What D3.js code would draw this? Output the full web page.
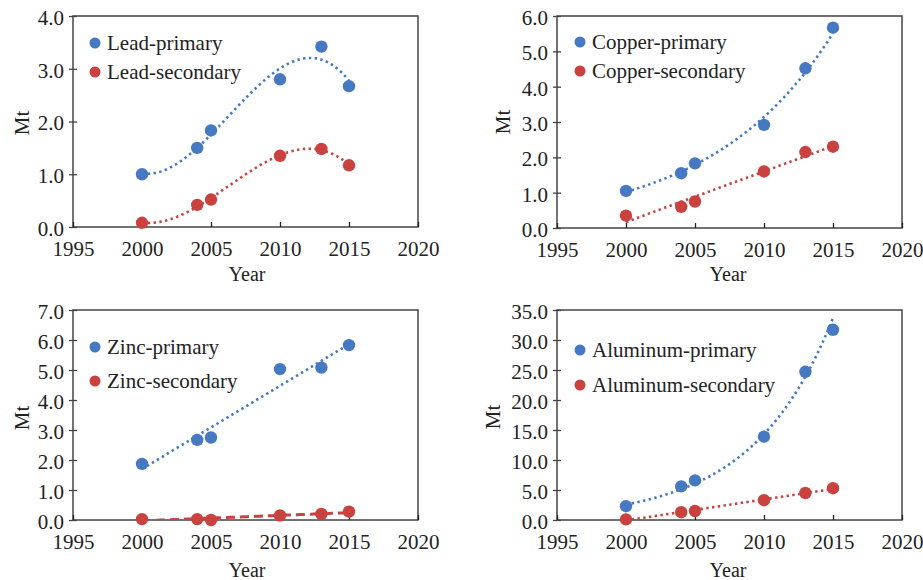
<!DOCTYPE html>
<html>
<head>
<meta charset="utf-8">
<script src="https://cdn.jsdelivr.net/npm/d3@7/dist/d3.min.js"></script>
<style>
  html, body { margin: 0; padding: 0; background: #fff; }
  svg { display: block; }
  svg text { font-family: "Liberation Serif", "Times New Roman", Tinos, "DejaVu Serif", serif !important; fill: #222; }
</style>
</head>
<body>
<svg id="chart" width="923" height="580"></svg>
<script>
// ---- data ----
const years = [2000, 2004, 2005, 2010, 2013, 2015];
const xTicks = [1995, 2000, 2005, 2010, 2015, 2020];

const leadPrimary = [1.0, 1.5, 1.83, 2.8, 3.42, 2.67];
const leadSecondary = [0.08, 0.42, 0.52, 1.35, 1.48, 1.17];
const copperPrimary = [1.05, 1.55, 1.83, 2.92, 4.52, 5.67];
const copperSecondary = [0.35, 0.6, 0.75, 1.6, 2.15, 2.3];
const zincPrimary = [1.87, 2.67, 2.75, 5.03, 5.08, 5.83];
const zincSecondary = [0.03, 0.03, 0.0, 0.15, 0.2, 0.28];
const aluminumPrimary = [2.3, 5.6, 6.6, 13.9, 24.7, 31.7];
const aluminumSecondary = [0.1, 1.3, 1.5, 3.3, 4.5, 5.3];

const leadTicks = [0, 1, 2, 3, 4];
const copperTicks = [0, 1, 2, 3, 4, 5, 6];
const zincTicks = [0, 1, 2, 3, 4, 5, 6, 7];
const aluminumTicks = [0, 5, 10, 15, 20, 25, 30, 35];

const panels = [
  { names: ["Lead-primary", "Lead-secondary"], series: [leadPrimary, leadSecondary],
    fits: ["poly3", "poly3"], yTicks: leadTicks,
    box: { x0: 73, x1: 418, y0: 16, y1: 227 }, legend: { x: 95, y: 43, dy: 29 },
    mt: { x: 22, y: 123 }, year: { x: 247, y: 281 } },
  { names: ["Copper-primary", "Copper-secondary"], series: [copperPrimary, copperSecondary],
    fits: ["exp", "linear"], yTicks: copperTicks,
    box: { x0: 557, x1: 902, y0: 16, y1: 228 }, legend: { x: 580, y: 42, dy: 29 },
    mt: { x: 503, y: 122 }, year: { x: 728, y: 281 } },
  { names: ["Zinc-primary", "Zinc-secondary"], series: [zincPrimary, zincSecondary],
    fits: ["linear", "linear"], yTicks: zincTicks, dashed2: true,
    box: { x0: 73, x1: 418, y0: 310, y1: 520 }, legend: { x: 95, y: 347, dy: 34 },
    mt: { x: 22, y: 418 }, year: { x: 247, y: 577 } },
  { names: ["Aluminum-primary", "Aluminum-secondary"], series: [aluminumPrimary, aluminumSecondary],
    fits: ["exp", "linear"], yTicks: aluminumTicks,
    box: { x0: 557, x1: 902, y0: 310, y1: 520 }, legend: { x: 580, y: 350, dy: 35 },
    mt: { x: 493, y: 417 }, year: { x: 728, y: 577 } }
];

const colors = ["#4679c2", "#c9423f"];
const FONT = '"Liberation Serif", "Times New Roman", Tinos, "DejaVu Serif", serif';

// ---- least-squares trendline helpers ----
function solve(A, b) {
  const n = b.length;
  const M = A.map((r, i) => r.concat([b[i]]));
  for (let c = 0; c < n; c++) {
    let p = c;
    for (let r = c + 1; r < n; r++) if (Math.abs(M[r][c]) > Math.abs(M[p][c])) p = r;
    [M[c], M[p]] = [M[p], M[c]];
    for (let r = 0; r < n; r++) {
      if (r === c) continue;
      const f = M[r][c] / M[c][c];
      for (let k = c; k <= n; k++) M[r][k] -= f * M[c][k];
    }
  }
  return M.map((r, i) => r[n] / r[i]);
}
function polyFit(xs, ys, deg) {
  const n = deg + 1;
  const A = Array.from({ length: n }, () => Array(n).fill(0));
  const b = Array(n).fill(0);
  xs.forEach((x, i) => {
    for (let r = 0; r < n; r++) {
      b[r] += ys[i] * Math.pow(x, r);
      for (let c = 0; c < n; c++) A[r][c] += Math.pow(x, r + c);
    }
  });
  const coef = solve(A, b);
  return x => coef.reduce((s, c, k) => s + c * Math.pow(x, k), 0);
}
function makeFit(type, xs, ys) {
  const t = xs.map(x => x - 2000);
  if (type === "linear") { const f = polyFit(t, ys, 1); return x => f(x - 2000); }
  if (type === "poly3") { const f = polyFit(t, ys, 3); return x => f(x - 2000); }
  if (type === "exp") {
    const f = polyFit(t, ys.map(v => Math.log(v)), 1);
    return x => Math.exp(f(x - 2000));
  }
}

// ---- draw ----
const svg = d3.select("#chart");
svg.append("rect").attr("width", 923).attr("height", 580).attr("fill", "#fff");

panels.forEach((p, pi) => {
  const b = p.box;
  const x = d3.scaleLinear().domain([1995, 2020]).range([b.x0, b.x1]);
  const y = d3.scaleLinear().domain([0, d3.max(p.yTicks)]).range([b.y1, b.y0]);
  const g = svg.append("g").attr("font-family", FONT);

  const clipId = "clip" + pi;
  svg.append("clipPath").attr("id", clipId).append("rect")
    .attr("x", b.x0).attr("y", b.y0).attr("width", b.x1 - b.x0).attr("height", b.y1 - b.y0);

  // frame
  g.append("rect").attr("x", b.x0).attr("y", b.y0)
    .attr("width", b.x1 - b.x0).attr("height", b.y1 - b.y0)
    .attr("fill", "none").attr("stroke", "#444").attr("stroke-width", 1.5);

  // y axis
  const yAxis = d3.axisLeft(y).tickValues(p.yTicks).tickFormat(d3.format(".1f"))
    .tickSizeInner(-4).tickSizeOuter(0).tickPadding(9);
  const ya = g.append("g").attr("transform", `translate(${b.x0},0)`).call(yAxis)
    .attr("font-family", FONT);
  ya.select(".domain").remove();
  ya.selectAll(".tick line").attr("x1", -4).attr("x2", 4).attr("stroke", "#444").attr("stroke-width", 1.3);
  ya.selectAll(".tick text").attr("font-size", 21).attr("fill", "#222").attr("dy", "0.4em");

  // x axis
  const xAxis = d3.axisBottom(x).tickValues(xTicks).tickFormat(d3.format("d"))
    .tickSizeInner(-5).tickSizeOuter(0).tickPadding(11);
  const xa = g.append("g").attr("transform", `translate(0,${b.y1})`).call(xAxis)
    .attr("font-family", FONT);
  xa.select(".domain").remove();
  xa.selectAll(".tick line").attr("stroke", "#222").attr("stroke-width", 1.3);
  xa.selectAll(".tick text").attr("font-size", 21).attr("fill", "#222").attr("dy", "0.85em");

  // axis titles
  g.append("text").attr("transform", `translate(${p.mt.x},${p.mt.y}) rotate(-90)`)
    .attr("text-anchor", "middle").attr("dy", "0.35em").attr("font-size", 21).text("Mt");
  g.append("text").attr("x", p.year.x).attr("y", p.year.y)
    .attr("text-anchor", "middle").attr("font-size", 20).text("Year");

  // trendlines
  const line = d3.line().x(d => x(d[0])).y(d => y(d[1]));
  p.series.forEach((vals, si) => {
    const f = makeFit(p.fits[si], years, vals);
    const pts = d3.range(2000, 2015.001, 0.1).map(t => [t, f(t)]);
    const dashed = p.dashed2 && si === 1;
    g.append("path").attr("d", line(pts)).attr("clip-path", `url(#${clipId})`)
      .attr("fill", "none").attr("stroke", colors[si])
      .attr("stroke-width", dashed ? 3 : 2.6)
      .attr("stroke-dasharray", dashed ? "9,5" : "2.4,3.4");
  });

  // points
  p.series.forEach((vals, si) => {
    g.selectAll(null).data(years.map((yr, i) => [yr, vals[i]])).enter().append("circle")
      .attr("cx", d => x(d[0])).attr("cy", d => y(d[1])).attr("r", 6.2)
      .attr("fill", colors[si]);
  });

  // legend
  p.names.forEach((n, si) => {
    const ly = p.legend.y + si * p.legend.dy;
    g.append("circle").attr("cx", p.legend.x).attr("cy", ly).attr("r", 5.5).attr("fill", colors[si]);
    g.append("text").attr("x", p.legend.x + 12).attr("y", ly).attr("dy", "0.33em")
      .attr("font-size", 21).text(n);
  });
});
</script>
</body>
</html>
